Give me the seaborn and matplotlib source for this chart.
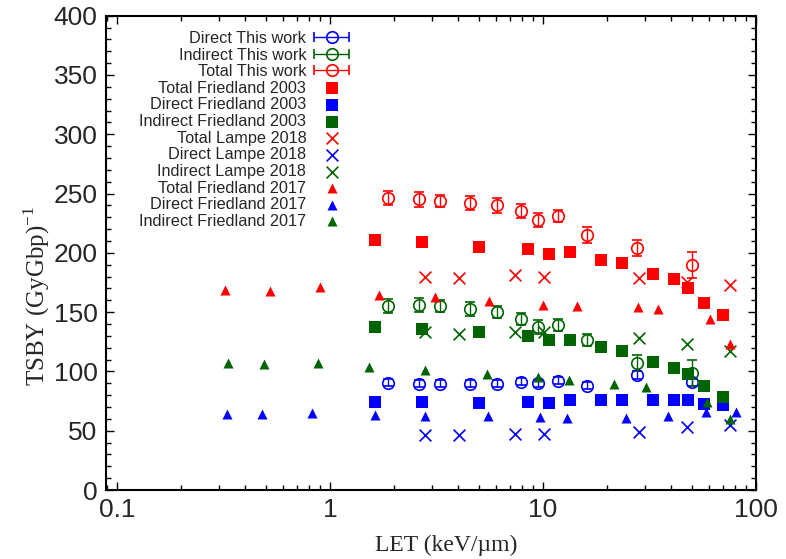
import numpy as np
import pandas as pd
import matplotlib
matplotlib.use("Agg")
import matplotlib.pyplot as plt
import seaborn as sns
from matplotlib.container import ErrorbarContainer
from matplotlib.legend_handler import HandlerErrorbar
from matplotlib.ticker import FixedLocator, LogLocator, MultipleLocator, NullFormatter

# ---------------- data ----------------
let_this = [1.88, 2.61, 3.29, 4.55, 6.05, 7.89, 9.44, 11.8, 16.1, 27.5, 49.8]
total_this = [246, 245, 244, 242, 240, 235.5, 228, 231, 215, 204, 190]
total_this_err = [6, 6, 5, 6, 6, 6, 6, 5, 6.5, 7, 11]
indirect_this = [155.5, 156, 155, 152.5, 150, 144, 137.5, 139, 126.5, 107, 99]
indirect_this_err = [6, 6, 5, 6, 5, 5, 6, 5, 5, 6.5, 11]
direct_this = [90.5, 89.5, 89.5, 89.5, 89.5, 91.5, 90, 92, 88, 97, 91]
direct_this_err = [3, 3, 3, 3, 3, 3, 3, 3, 3, 3, 3]

let_f03 = [1.63, 2.71, 4.98, 8.54, 10.7, 13.4, 18.8, 23.5, 32.8, 41.3, 47.9, 57.2, 69.9]
total_f03 = [211, 209.5, 205, 203, 199, 201, 194, 191.5, 182, 178, 170.5, 158, 147.5]
direct_f03 = [74.5, 74.5, 73.5, 74.5, 73.5, 75.5, 75.5, 75.5, 75.5, 76, 75.5, 72.5, 71.5]
indirect_f03 = [137.5, 136, 133.5, 129.5, 126.5, 126.5, 121, 117.5, 108, 103, 97.5, 88, 78.5]

let_l18 = [2.79, 4.04, 7.40, 10.1, 28.1, 47.4, 75.6]
total_l18 = [179.5, 178.5, 181.5, 180, 178.5, 175.5, 173]
direct_l18 = [46.5, 46, 47, 47, 48.5, 53, 55]
indirect_l18 = [133.5, 131.5, 133.5, 133.5, 128, 123, 117]

let_f17_total = [0.323, 0.525, 0.895, 1.69, 3.12, 5.56, 9.97, 14.5, 27.9, 34.8, 60.9, 75.6]
total_f17 = [168.5, 168, 171, 164.5, 162.5, 159, 156, 155, 154, 152.5, 144, 123.5]
let_f17_direct = [0.327, 0.482, 0.821, 1.63, 2.79, 5.53, 9.69, 12.9, 24.5, 38.6, 58.2, 80.4]
direct_f17 = [64.5, 64, 65, 63, 62.5, 62, 61.5, 61, 60.5, 62.5, 66, 65.5]
let_f17_indirect = [0.332, 0.490, 0.879, 1.52, 2.79, 5.45, 9.44, 13.3, 21.6, 30.4, 58.8, 75.6]
indirect_f17 = [107.5, 106, 107, 103.5, 101, 98, 95, 92.5, 89, 86.5, 74.5, 59.5]

RED, BLUE, GREEN = "#ff0000", "#0000ff", "#006400"

# ---------------- style ----------------
sns.set_theme(style="white")
plt.rcParams["font.family"] = ["Liberation Sans", "DejaVu Sans"]
plt.rcParams["mathtext.fontset"] = "custom"
plt.rcParams["mathtext.rm"] = "Liberation Serif"

fig = plt.figure(figsize=(7.86, 5.59), dpi=100)
ax = fig.add_axes([106 / 786, 1 - 490 / 559, 650 / 786, (490 - 15.7) / 559])

handles = []
labels = []

def this_work(x, y, err, color, label):
    ax.errorbar(x, y, yerr=err, fmt="o", ms=8.3, mfc="none", mec=color, mew=1.2,
                ecolor=color, elinewidth=1.0, capsize=3.6, capthick=1.0, color=color,
                zorder=3)
    h = ax.errorbar([np.nan], [np.nan], xerr=[1], fmt="o", ms=8.3, mfc="none", mec=color,
                    mew=1.2, ecolor=color, elinewidth=1.0, capsize=3.6, capthick=1.0,
                    color=color)
    handles.append(h)
    labels.append(label)

this_work(let_this, direct_this, direct_this_err, BLUE, "Direct This work")
this_work(let_this, indirect_this, indirect_this_err, GREEN, "Indirect This work")
this_work(let_this, total_this, total_this_err, RED, "Total This work")

def scat(x, y, marker, color, size, label):
    df = pd.DataFrame({"LET": x, "TSBY": y})
    lw = 1.2 if marker == "x" else 0
    sns.scatterplot(data=df, x="LET", y="TSBY", marker=marker, color=color, s=size,
                    linewidth=lw, ax=ax, zorder=4, legend=False)
    h = ax.scatter([], [], marker=marker, color=color, s=size, linewidths=lw)
    handles.append(h)
    labels.append(label)

scat(let_f03, total_f03, "s", RED, 70, "Total Friedland 2003")
scat(let_f03, direct_f03, "s", BLUE, 70, "Direct Friedland 2003")
scat(let_f03, indirect_f03, "s", GREEN, 70, "Indirect Friedland 2003")
scat(let_l18, total_l18, "x", RED, 72, "Total Lampe 2018")
scat(let_l18, direct_l18, "x", BLUE, 72, "Direct Lampe 2018")
scat(let_l18, indirect_l18, "x", GREEN, 72, "Indirect Lampe 2018")
scat(let_f17_total, total_f17, "^", RED, 52, "Total Friedland 2017")
scat(let_f17_direct, direct_f17, "^", BLUE, 52, "Direct Friedland 2017")
scat(let_f17_indirect, indirect_f17, "^", GREEN, 52, "Indirect Friedland 2017")

# ---------------- axes ----------------
ax.set_xscale("log")
ax.set_xlim(0.0888, 100)
ax.set_ylim(0, 400)
ax.xaxis.set_major_locator(FixedLocator([0.1, 1, 10, 100]))
ax.set_xticklabels(["0.1", "1", "10", "100"])
ax.xaxis.set_minor_locator(LogLocator(base=10, subs=np.arange(2, 10)))
ax.xaxis.set_minor_formatter(NullFormatter())
ax.yaxis.set_major_locator(MultipleLocator(50))
ax.yaxis.set_minor_locator(MultipleLocator(10))

ax.tick_params(which="both", direction="in", top=True, right=True, bottom=True, left=True,
               color="black", width=1.0)
ax.tick_params(which="major", length=6, labelsize=19, pad=6)
ax.tick_params(which="minor", length=3.5)
for s in ax.spines.values():
    s.set_color("black")
    s.set_linewidth(1.5)

ax.set_xlabel("LET (keV/\u00b5m)", family=["Liberation Serif"], fontsize=17)
ax.set_ylabel("TSBY (GyGbp)$^{\\mathregular{-1}}$", family=["Liberation Serif"],
              fontsize=18)
ax.xaxis.set_label_coords(0.523, -0.095)
ax.yaxis.set_label_coords(-0.083, 0.41)

leg = ax.legend(handles, labels, loc="upper right", bbox_to_anchor=(0.372, 0.968),
                frameon=False, markerfirst=False, fontsize=11.7, labelspacing=0.1,
                handlelength=2.0, handletextpad=0.55, borderpad=0, borderaxespad=0,
                handler_map={ErrorbarContainer: HandlerErrorbar(xerr_size=1.05)})

fig.savefig("out.png", dpi=100)
